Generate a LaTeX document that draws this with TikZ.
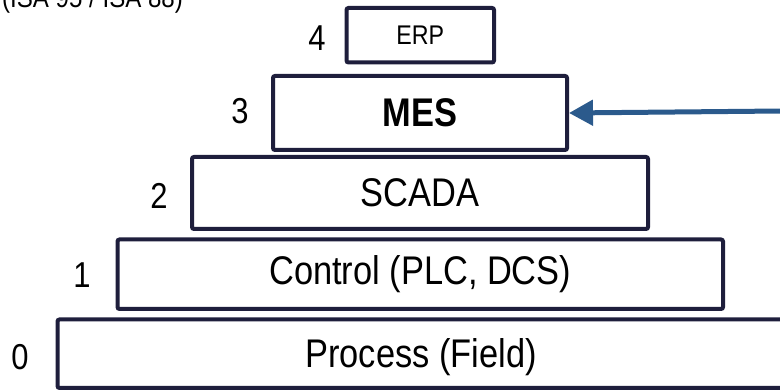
\documentclass[tikz,border=0pt]{standalone}
\usepackage{fontspec}
\setmainfont{Liberation Sans}[FakeStretch=0.86]
\usetikzlibrary{arrows.meta}
\definecolor{boxnavy}{RGB}{30,30,60}
\definecolor{arrowblue}{RGB}{43,90,140}
\begin{document}
\begin{tikzpicture}[x=1pt,y=1pt,
  levelbox/.style={draw=boxnavy, line width=4pt, rounded corners=2pt, rectangle, inner sep=0pt, fill=white},
  bigtext/.style={font=\fontsize{40}{48}\selectfont, text=black},
  smalltext/.style={font=\fontsize{27}{32}\selectfont, text=black},
  numtext/.style={font=\fontsize{36}{42}\selectfont, text=black, inner sep=0pt},
  feed/.style={draw=arrowblue, line width=5pt, -{Triangle[length=24pt,width=25pt]}}
]
\useasboundingbox (0,0) rectangle (780,390);
\clip (0,0) rectangle (780,390);

% title (cut off at top)
\node[anchor=base west, inner sep=0pt, font=\fontsize{28}{34}\selectfont] (title) at (2,382) {(ISA 95 / ISA 88)};

% boxes
\node[levelbox, minimum width=802.5pt, minimum height=68.5pt] (process) at (458.75,36.25) {};
\node[bigtext, inner sep=0pt] (processlabel) at (421,33) {Process (Field)};
\node[levelbox, bigtext, minimum width=605.5pt, minimum height=69.5pt] (control) at (420.25,115.75) {Control (PLC, DCS)};
\node[levelbox, bigtext, minimum width=456pt, minimum height=72pt] (scada) at (420,197) {SCADA};
\node[levelbox, bigtext, minimum width=294pt, minimum height=74pt, font=\fontsize{40}{48}\selectfont\bfseries] (mes) at (420,277) {MES};
\node[levelbox, smalltext, minimum width=147.5pt, minimum height=54.5pt] (erp) at (420.25,354.75) {ERP};

% level numbers
\node[numtext] (n0) at (20,33) {0};
\node[numtext] (n1) at (82,115) {1};
\node[numtext] (n2) at (159,194.5) {2};
\node[numtext] (n3) at (240,279) {3};
\node[numtext] (n4) at (317,352) {4};

% arrow into MES
\coordinate (feedstart) at (782,279);
\draw[feed] (feedstart) -- (mes.east);
\end{tikzpicture}
\end{document}
